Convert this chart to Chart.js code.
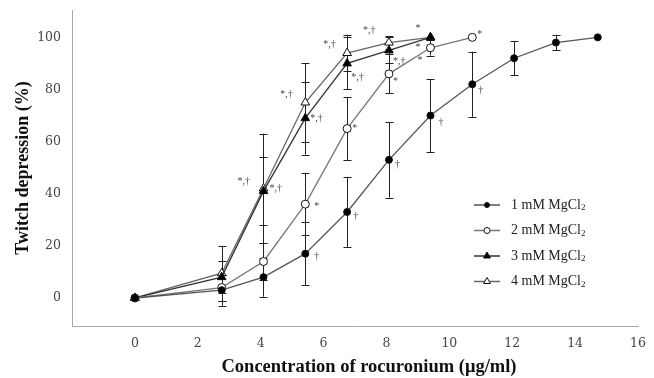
<!DOCTYPE html>
<html>
<head>
<meta charset="utf-8">
<script src="https://cdn.jsdelivr.net/npm/chart.js@4.4.1/dist/chart.umd.min.js"></script>
<style>
  html, body { margin: 0; padding: 0; background: #fff; }
  #wrap { width: 654px; height: 378px; position: relative; }
</style>
</head>
<body>
<div id="wrap"><canvas id="twitchChart"></canvas></div>
<script>
// cumulative rocuronium concentration (ug/ml)
const doses = [0, 2.76, 4.09, 5.42, 6.75, 8.08, 9.40, 10.73, 12.06, 13.39, 14.72];

// mean twitch depression (%) and SD per MgCl2 group
const mg1 = [0, 3, 8, 17, 33, 53, 70, 82, 92, 98, 100];
const mg1Sd = [0, 6, 7.5, 12, 13.5, 14.5, 14, 12.5, 6.5, 3, 0];
const mg2 = [0, 4, 14, 36, 65, 86, 96, 100];
const mg2Sd = [0, 5, 7, 12, 12, 7.5, 3, 0];
const mg3 = [0, 8, 41, 69, 90, 95, 100];
const mg3Sd = [0, 6, 13, 14, 10, 5, 0];
const mg4 = [0, 9.5, 42, 75, 94, 98, 100];
const mg4Sd = [0, 10.5, 21, 15, 7, 2.5, 0];

// significance marks next to the points
const mg1Marks = ['', '', '', '†', '†', '†', '†', '†', '', '', ''];
const mg2Marks = ['', '', '', '*', '*', '*', '*', '*'];
const mg3Marks = ['', '', '*,†', '*,†', '*,†', '*,†', '*'];
const mg4Marks = ['', '', '*,†', '*,†', '*,†', '*,†', '*'];

const groupNames = ['1 mM MgCl', '2 mM MgCl', '3 mM MgCl', '4 mM MgCl'];
const xTickValues = [0, 2, 4, 6, 8, 10, 12, 14, 16];
const yTickValues = [0, 20, 40, 60, 80, 100];
const xTitle = 'Concentration of rocuronium (μg/ml)';
const yTitle = 'Twitch depression (%)';

const SERIF = '"Liberation Serif", "Times New Roman", serif';
const TICK_SERIF = '"DejaVu Serif", serif';

const sds = [mg1Sd, mg2Sd, mg3Sd, mg4Sd];
const marks = [mg1Marks, mg2Marks, mg3Marks, mg4Marks];

// where each mark sits relative to its point (px)
const markOffsets = [
    {3: [9, 3], 4: [6, 4], 5: [6, 5], 6: [8, 7], 7: [6, 6]},
    {3: [9, 2], 4: [5, 0], 5: [4, 8], 6: [-13, 13], 7: [5, -3]},
    {2: [6, -3], 3: [5, 0], 4: [4, 14], 5: [4, 11], 6: [-15, 10]},
    {2: [-26, -7], 3: [-25, -8], 4: [-24, -9], 5: [-26, -12], 6: [-15, -9]}
];

function points(ys) {
    return ys.map((y, k) => ({x: doses[k], y: y}));
}

// vertical SD bars with small caps
const errorBars = {
    id: 'errorBars',
    beforeDatasetsDraw(chart) {
        const ctx = chart.ctx;
        const xs = chart.scales.x, ys = chart.scales.y;
        ctx.save();
        ctx.strokeStyle = '#222';
        ctx.lineWidth = 1;
        chart.data.datasets.forEach((ds, i) => {
            ds.data.forEach((p, k) => {
                const sd = sds[i][k];
                if (!sd) return;
                const px = Math.round(xs.getPixelForValue(p.x)) + 0.5;
                const top = ys.getPixelForValue(p.y + sd);
                const bot = ys.getPixelForValue(p.y - sd);
                ctx.beginPath();
                ctx.moveTo(px, top); ctx.lineTo(px, bot);
                ctx.moveTo(px - 4, Math.round(top) + 0.5); ctx.lineTo(px + 4, Math.round(top) + 0.5);
                ctx.moveTo(px - 4, Math.round(bot) + 0.5); ctx.lineTo(px + 4, Math.round(bot) + 0.5);
                ctx.stroke();
            });
        });
        ctx.restore();
    }
};

// * and † marks, the x axis title and the legend box on the right
const extras = {
    id: 'extras',
    afterDraw(chart) {
        const ctx = chart.ctx;
        const xs = chart.scales.x, ys = chart.scales.y;
        ctx.save();
        ctx.font = '10px ' + SERIF;
        ctx.fillStyle = '#444';
        ctx.textAlign = 'left';
        ctx.textBaseline = 'middle';
        chart.data.datasets.forEach((ds, i) => {
            ds.data.forEach((p, k) => {
                const m = marks[i][k];
                if (!m) return;
                const off = markOffsets[i][k] || [6, 0];
                ctx.fillText(m, xs.getPixelForValue(p.x) + off[0], ys.getPixelForValue(p.y) + off[1]);
            });
        });

        // x axis title, centred a little right of the axis
        ctx.font = 'bold 18.5px ' + SERIF;
        ctx.fillStyle = '#111';
        ctx.textAlign = 'center';
        ctx.fillText(xTitle, 369, 367);

        // legend
        ctx.textAlign = 'left';
        const lx = 474, ly = 205, gap = 25.5;
        chart.data.datasets.forEach((ds, i) => {
            const y = ly + i * gap;
            ctx.strokeStyle = ds.borderColor;
            ctx.lineWidth = 1.5;
            ctx.beginPath();
            ctx.moveTo(lx, y); ctx.lineTo(lx + 26, y);
            ctx.stroke();
            ctx.fillStyle = ds.pointBackgroundColor;
            ctx.strokeStyle = '#111';
            ctx.lineWidth = 1;
            Chart.helpers.drawPoint(ctx, {
                pointStyle: ds.pointStyle,
                radius: ds.pointRadius - 1,
                borderWidth: 1,
                rotation: 0
            }, lx + 13, y);
            ctx.fillStyle = '#222';
            ctx.font = '14px ' + SERIF;
            ctx.fillText(groupNames[i], lx + 37, y);
            const w = ctx.measureText(groupNames[i]).width;
            ctx.font = '9px ' + SERIF;
            ctx.fillText('2', lx + 37 + w, y + 3);
        });
        ctx.restore();
    }
};

const lineColors = ['#555', '#777', '#333', '#666'];
const styles = [
    {pointStyle: 'circle', pointRadius: 3.5, fill: '#000'},
    {pointStyle: 'circle', pointRadius: 4, fill: '#fff'},
    {pointStyle: 'triangle', pointRadius: 5, fill: '#000'},
    {pointStyle: 'triangle', pointRadius: 5, fill: '#fff'}
];

const datasets = [mg1, mg2, mg3, mg4].map((ys, i) => ({
    label: groupNames[i] + '2',
    data: points(ys),
    borderColor: lineColors[i],
    borderWidth: 1.3,
    tension: 0,
    fill: false,
    pointStyle: styles[i].pointStyle,
    pointRadius: styles[i].pointRadius,
    pointBackgroundColor: styles[i].fill,
    pointBorderColor: '#111',
    pointBorderWidth: 1
}));

new Chart(document.getElementById('twitchChart'), {
    type: 'line',
    data: {datasets: datasets},
    options: {
        responsive: true,
        maintainAspectRatio: false,
        animation: false,
        layout: {padding: {top: 10, right: 16, left: 0, bottom: 0}},
        plugins: {
            legend: {display: false},
            tooltip: {enabled: false}
        },
        scales: {
            x: {
                type: 'linear',
                min: -2,
                max: 16,
                grid: {display: false, drawTicks: false},
                border: {color: '#a8a8a8', width: 1},
                ticks: {font: {family: TICK_SERIF, size: 12.5}, color: '#444', padding: 10},
                afterBuildTicks: s => { s.ticks = xTickValues.map(v => ({value: v})); },
                afterFit: s => { s.height = 52; s.paddingLeft = 0; s.paddingRight = 0; }
            },
            y: {
                type: 'linear',
                min: -10.75,
                max: 110.5,
                grid: {display: false, drawTicks: false},
                border: {color: '#a8a8a8', width: 1},
                ticks: {font: {family: TICK_SERIF, size: 12.5}, color: '#444', padding: 11},
                afterBuildTicks: s => { s.ticks = yTickValues.map(v => ({value: v})); },
                afterFit: s => { s.width = 72; s.paddingTop = 0; s.paddingBottom = 0; },
                title: {
                    display: true,
                    text: yTitle,
                    font: {family: SERIF, size: 18, weight: 'bold'},
                    color: '#111',
                    padding: {top: 13, bottom: 0}
                }
            }
        }
    },
    plugins: [errorBars, extras]
});
</script>
</body>
</html>
